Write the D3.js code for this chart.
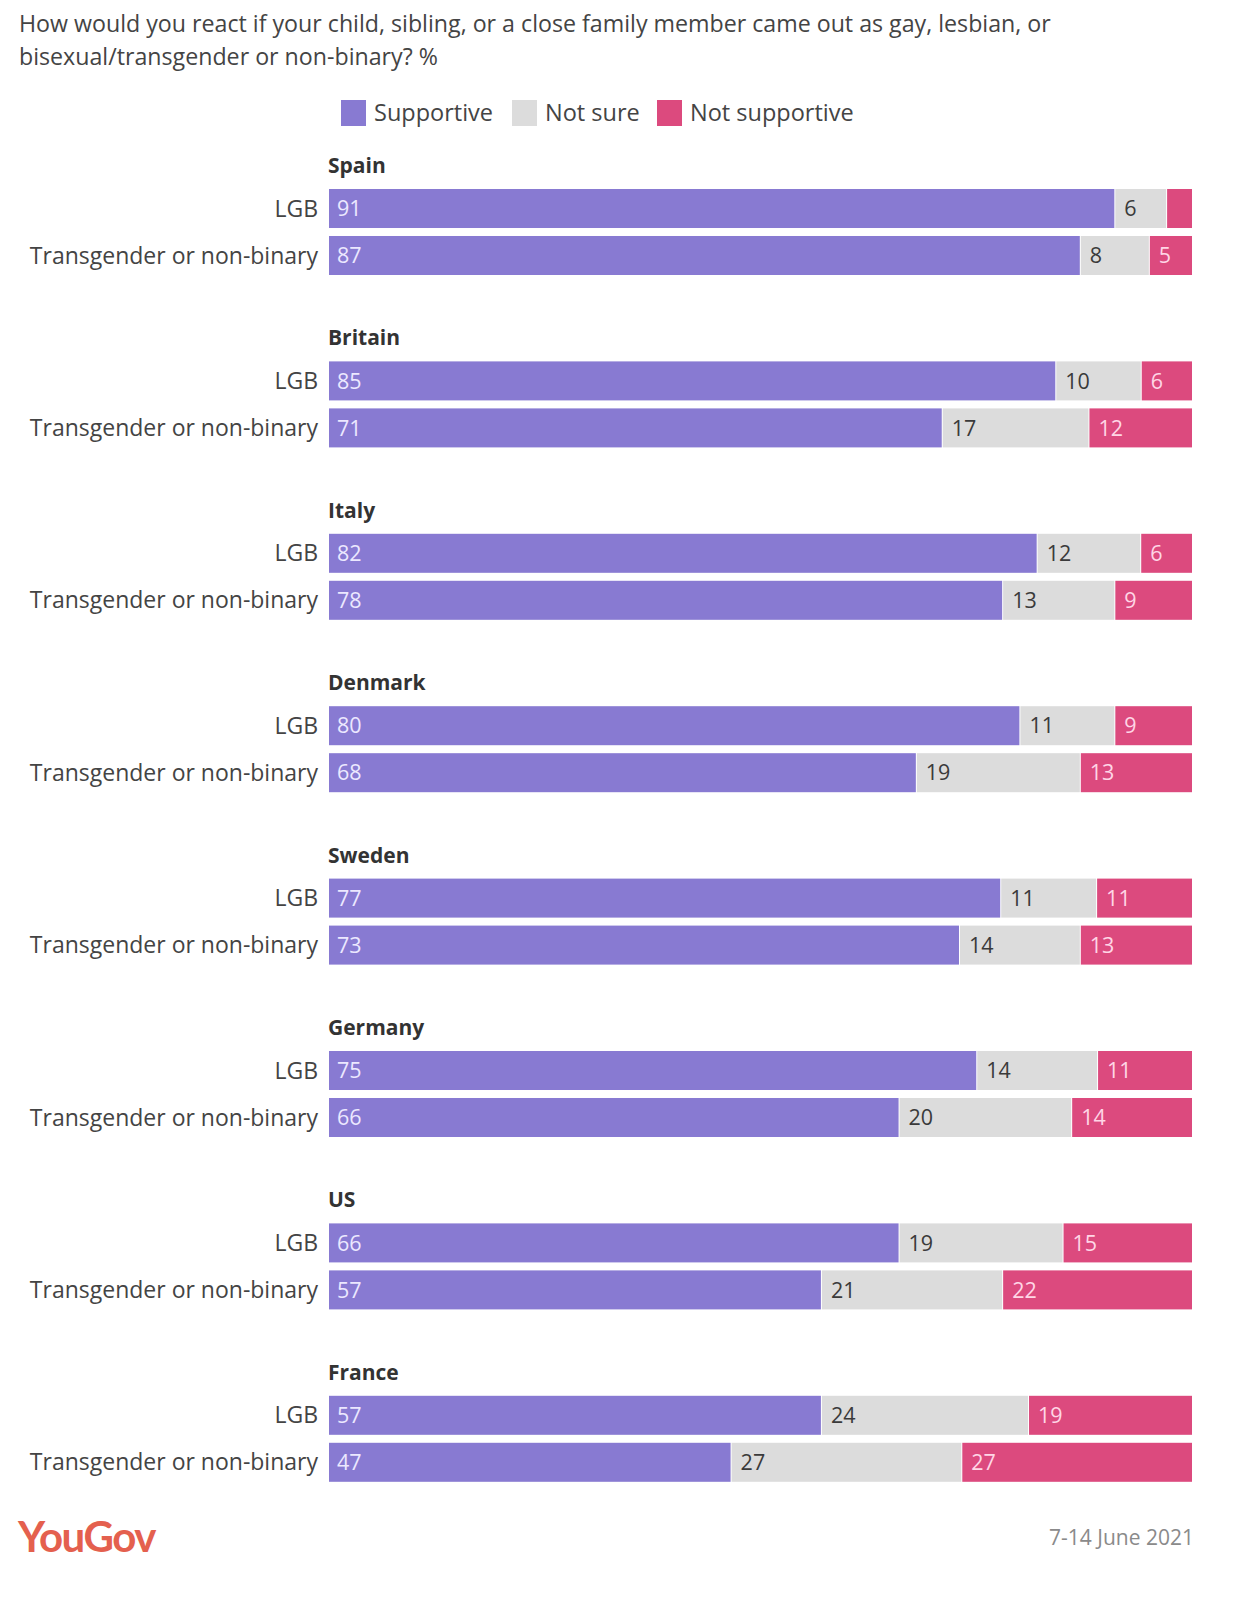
<!DOCTYPE html>
<html>
<head>
<meta charset="utf-8">
<script src="https://cdn.jsdelivr.net/npm/d3@7"></script>
<style>
  body { margin: 0; background: #fff; }
  svg { display: block; font-family: "Open Sans", Lato, sans-serif; }
</style>
</head>
<body>
<svg id="chart" width="1249" height="1613"></svg>
<script>
// data
const countries = ["Spain", "Britain", "Italy", "Denmark", "Sweden", "Germany", "US", "France"];
const groups = ["LGB", "Transgender or non-binary"];
const seriesNames = ["Supportive", "Not sure", "Not supportive"];

const supportive    = [[91, 87], [85, 71], [82, 78], [80, 68], [77, 73], [75, 66], [66, 57], [57, 47]];
const notSure       = [[6, 8],   [10, 17], [12, 13], [11, 19], [11, 14], [14, 20], [19, 21], [24, 27]];
const notSupportive = [[3, 5],   [6, 12],  [6, 9],   [9, 13],  [11, 13], [11, 14], [15, 22], [19, 27]];

const colors = ["#887ad2", "#dcdcdc", "#dc4a7e"];
const labelColors = ["#ece8ff", "#3a3a3a", "#ffd6e6"];

const svg = d3.select("#chart");

// title
svg.append("text")
  .attr("x", 19).attr("y", 32)
  .attr("font-size", 23.2).attr("fill", "#444")
  .text("How would you react if your child, sibling, or a close family member came out as gay, lesbian, or");
svg.append("text")
  .attr("x", 19).attr("y", 65)
  .attr("font-size", 23.2).attr("fill", "#444")
  .text("bisexual/transgender or non-binary? %");

// legend
const legendX = [341, 512, 657];
const legend = svg.append("g");
seriesNames.forEach((name, i) => {
  legend.append("rect")
    .attr("x", legendX[i]).attr("y", 100)
    .attr("width", 25).attr("height", 26)
    .attr("fill", colors[i]);
  legend.append("text")
    .attr("x", legendX[i] + 33).attr("y", 121)
    .attr("font-size", 23.5).attr("fill", "#444")
    .text(name);
});

// scales
const x0 = 329, x1 = 1192;
const yCountry = d3.scaleBand()
  .domain(countries)
  .range([145, 145 + 8 * 172.4]);
const yGroup = d3.scaleBand()
  .domain(groups)
  .range([44, 130])
  .paddingInner(0.17);

countries.forEach((country, ci) => {
  const g = svg.append("g")
    .attr("transform", `translate(0,${yCountry(country)})`);

  g.append("text")
    .attr("x", 328).attr("y", 28)
    .attr("font-size", 21).attr("font-weight", "bold").attr("fill", "#333")
    .text(country);

  groups.forEach((grp, gi) => {
    const vals = [supportive[ci][gi], notSure[ci][gi], notSupportive[ci][gi]];
    const total = d3.sum(vals);
    const x = d3.scaleLinear().domain([0, total]).range([x0, x1]);
    const y = yGroup(grp);
    const h = yGroup.bandwidth();

    g.append("text")
      .attr("x", 318).attr("y", y + h / 2)
      .attr("dy", "0.35em")
      .attr("text-anchor", "end")
      .attr("font-size", 23).attr("fill", "#444")
      .text(grp);

    let acc = 0;
    vals.forEach((v, si) => {
      const start = x(acc);
      const end = x(acc + v);
      acc += v;
      g.append("rect")
        .attr("x", start + (si > 0 ? 1 : 0))
        .attr("y", y)
        .attr("width", Math.max(0, end - start - (si > 0 ? 1 : 0)))
        .attr("height", h)
        .attr("fill", colors[si]);
      if (v >= 4) {
        g.append("text")
          .attr("x", start + (si > 0 ? 10 : 8))
          .attr("y", y + h / 2)
          .attr("dy", "0.36em")
          .attr("font-size", 21.5).attr("fill", labelColors[si])
          .text(v);
      }
    });
  });
});

// footer
svg.append("text")
  .attr("x", 18).attr("y", 1552)
  .attr("font-family", "Lato, sans-serif")
  .attr("font-size", 42).attr("font-weight", "bold")
  .attr("letter-spacing", -1.5)
  .attr("fill", "#e4604e")
  .text("YouGov");
svg.append("text")
  .attr("x", 1194).attr("y", 1545)
  .attr("text-anchor", "end")
  .attr("font-size", 21).attr("fill", "#8a8a8a")
  .text("7-14 June 2021");
</script>
</body>
</html>
